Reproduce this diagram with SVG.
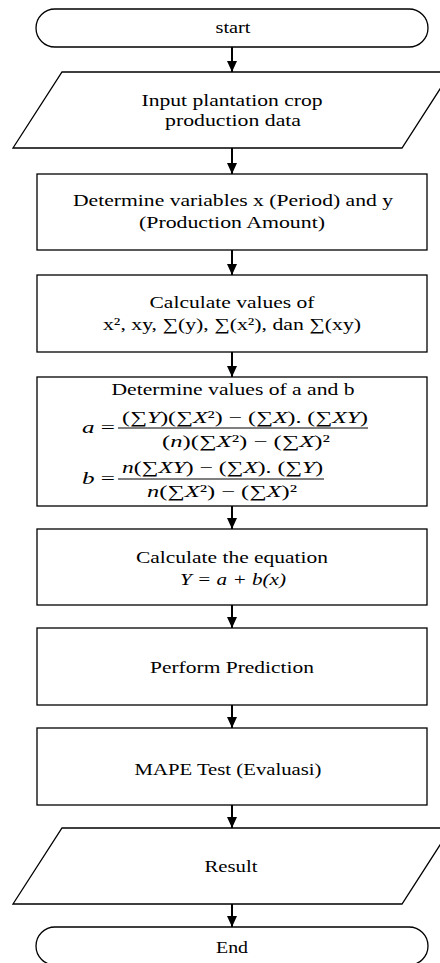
<svg xmlns="http://www.w3.org/2000/svg" width="440" height="963" viewBox="0 0 440 963">
<style>
.shape{fill:#fff;stroke:#000;stroke-width:1.3}
.t{font-family:"Liberation Serif","Times New Roman",serif;font-size:17px;fill:#000;text-anchor:middle}
.f{font-family:"Liberation Serif","Times New Roman",serif;font-size:17px;fill:#000}
.i{font-style:italic}
.conn{stroke:#000;stroke-width:2;fill:none;marker-end:url(#arr)}
.bar{stroke:#000;stroke-width:1}
</style>
<defs>
<marker id="arr" markerUnits="userSpaceOnUse" markerWidth="11" markerHeight="10" refX="11" refY="5" orient="auto" viewBox="0 0 11 10">
<path d="M0,0 L11,5 L0,10 z" fill="#000"/>
</marker>
</defs>
<rect width="440" height="963" fill="#fff"/>
<g id="connectors">
<line class="conn" x1="232" y1="47" x2="232" y2="72"/>
<line class="conn" x1="232" y1="148" x2="232" y2="174"/>
<line class="conn" x1="232" y1="250" x2="232" y2="275"/>
<line class="conn" x1="232" y1="352" x2="232" y2="377"/>
<line class="conn" x1="232" y1="506" x2="232" y2="529"/>
<line class="conn" x1="232" y1="605" x2="232" y2="628"/>
<line class="conn" x1="232" y1="705" x2="232" y2="728"/>
<line class="conn" x1="232" y1="805" x2="232" y2="828"/>
<line class="conn" x1="232" y1="904" x2="232" y2="927"/>
</g>
<g id="start">
<rect class="shape" x="36" y="9" width="392" height="38" rx="19" ry="19"/>
<text class="t" x="233" y="33" textLength="35" lengthAdjust="spacingAndGlyphs">start</text>
</g>
<g id="input">
<polygon class="shape" points="62,72 451,72 402,148 13,148"/>
<text class="t" x="232" y="106" textLength="181" lengthAdjust="spacingAndGlyphs">Input plantation crop</text>
<text class="t" x="233" y="126" textLength="136" lengthAdjust="spacingAndGlyphs">production data</text>
</g>
<g id="variables">
<rect class="shape" x="37" y="174" width="390" height="76"/>
<text class="t" x="233" y="206" textLength="320" lengthAdjust="spacingAndGlyphs">Determine variables x (Period) and y</text>
<text class="t" x="232" y="228" textLength="186" lengthAdjust="spacingAndGlyphs">(Production Amount)</text>
</g>
<g id="calculate-values">
<rect class="shape" x="37" y="275" width="390" height="77"/>
<text class="t" x="232" y="308" textLength="165" lengthAdjust="spacingAndGlyphs">Calculate values of</text>
<text class="t" x="232" y="330" textLength="258" lengthAdjust="spacingAndGlyphs">x², xy, ∑(y), ∑(x²), dan ∑(xy)</text>
</g>
<g id="coefficients">
<rect class="shape" x="37" y="377" width="390" height="129"/>
<text class="t" x="233" y="395" textLength="243" lengthAdjust="spacingAndGlyphs">Determine values of a and b</text>
<text class="f" x="82" y="433" textLength="33" lengthAdjust="spacingAndGlyphs"><tspan class="i">a</tspan> =</text>
<text class="f" x="122" y="423" textLength="246" lengthAdjust="spacingAndGlyphs">(∑<tspan class="i">Y</tspan>)(∑<tspan class="i">X</tspan>²) − (∑<tspan class="i">X</tspan>). (∑<tspan class="i">XY</tspan>)</text>
<line class="bar" x1="118" y1="428" x2="368" y2="428"/>
<text class="f" x="162" y="447" textLength="168" lengthAdjust="spacingAndGlyphs">(<tspan class="i">n</tspan>)(∑<tspan class="i">X</tspan>²) − (∑<tspan class="i">X</tspan>)²</text>
<text class="f" x="82" y="484" textLength="33" lengthAdjust="spacingAndGlyphs"><tspan class="i">b</tspan> =</text>
<text class="f" x="122" y="473" textLength="201" lengthAdjust="spacingAndGlyphs"><tspan class="i">n</tspan>(∑<tspan class="i">XY</tspan>) − (∑<tspan class="i">X</tspan>). (∑<tspan class="i">Y</tspan>)</text>
<line class="bar" x1="118" y1="479" x2="324" y2="479"/>
<text class="f" x="147" y="497" textLength="150" lengthAdjust="spacingAndGlyphs"><tspan class="i">n</tspan>(∑<tspan class="i">X</tspan>²) − (∑<tspan class="i">X</tspan>)²</text>
</g>
<g id="equation">
<rect class="shape" x="37" y="529" width="390" height="76"/>
<text class="t" x="232" y="563" textLength="192" lengthAdjust="spacingAndGlyphs">Calculate the equation</text>
<text class="t i" x="233" y="585" textLength="106" lengthAdjust="spacingAndGlyphs">Y = a + b(x)</text>
</g>
<g id="prediction">
<rect class="shape" x="37" y="628" width="390" height="77"/>
<text class="t" x="232" y="673" textLength="164" lengthAdjust="spacingAndGlyphs">Perform Prediction</text>
</g>
<g id="mape">
<rect class="shape" x="37" y="728" width="390" height="77"/>
<text class="t" x="228" y="775" textLength="187" lengthAdjust="spacingAndGlyphs">MAPE Test (Evaluasi)</text>
</g>
<g id="result">
<polygon class="shape" points="62,828 451,828 402,904 13,904"/>
<text class="t" x="231" y="872" textLength="53" lengthAdjust="spacingAndGlyphs">Result</text>
</g>
<g id="end">
<rect class="shape" x="36" y="927" width="392" height="38" rx="19" ry="19"/>
<text class="t" x="232" y="953" textLength="32" lengthAdjust="spacingAndGlyphs">End</text>
</g>
</svg>
